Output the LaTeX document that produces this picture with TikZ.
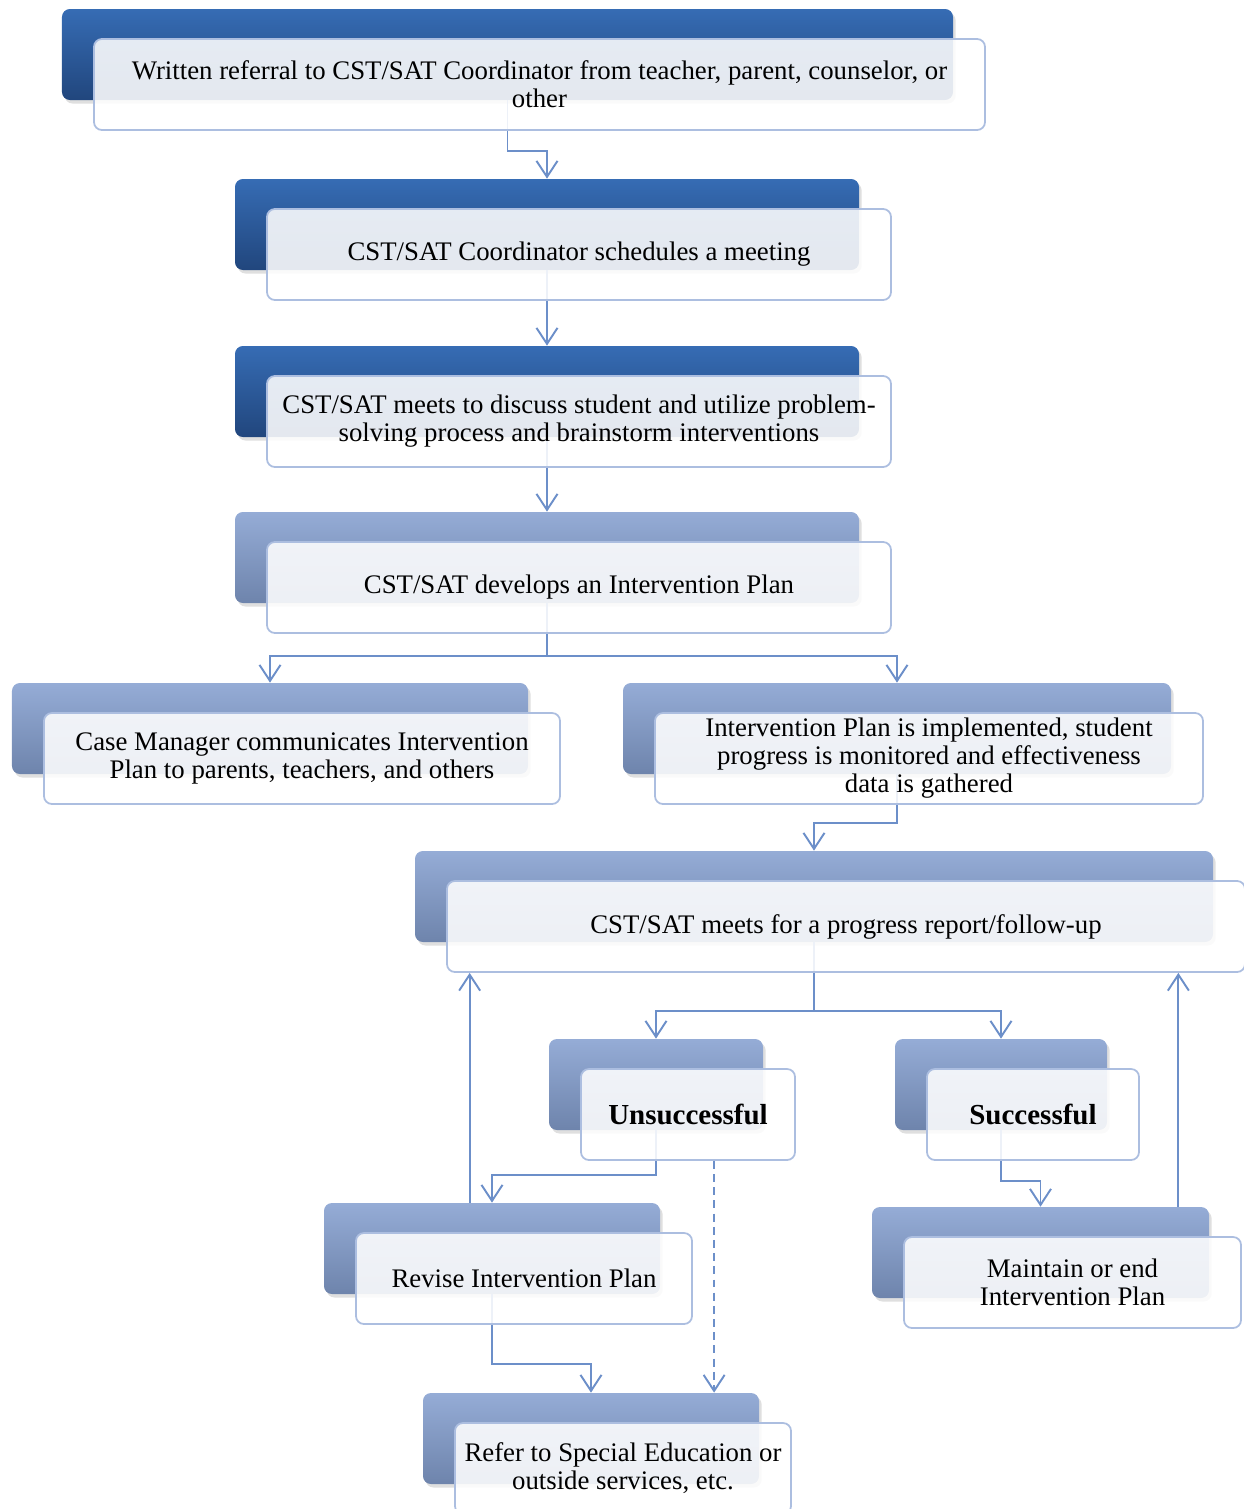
\documentclass[tikz,border=0pt]{standalone}
\usepackage{fontspec}
\setmainfont{Liberation Serif}
\usepackage{xcolor}
\usepackage{tikz}
\usetikzlibrary{arrows.meta}
\usetikzlibrary{shadows}

\definecolor{darktop}{RGB}{54,108,180}
\definecolor{darkbot}{RGB}{33,70,125}
\definecolor{paletop}{RGB}{149,172,214}
\definecolor{palebot}{RGB}{110,132,172}
\definecolor{cardline}{RGB}{172,190,224}
\definecolor{flowline}{RGB}{108,143,201}

\begin{document}
\begin{tikzpicture}[
    font = \fontsize{15.25}{15.9}\selectfont]
    \tikzstyle{tab}=[rounded corners=4.5pt,minimum height=1.82cm,inner sep=0pt,
      drop shadow={shadow xshift=1.5pt,shadow yshift=-2pt,opacity=0.25}]
    \tikzstyle{darktab}=[tab,top color=darktop,bottom color=darkbot]
    \tikzstyle{paletab}=[tab,top color=paletop,bottom color=palebot]
    \tikzstyle{card}=[draw=cardline,line width=1pt,fill=white,fill opacity=0.88,
      text opacity=1,rounded corners=4.5pt,minimum height=1.82cm,inner sep=0pt,align=center]
    \tikzstyle{flow}=[draw=flowline,line width=1.1pt,-{Straight Barb[length=3.2mm,width=4.2mm]}]
    \useasboundingbox (0,0) rectangle (24.88,-30.18);

    % back tabs
    \node[darktab,minimum width=17.82cm] (t1) at (10.15,-1.09) {};
    \node[darktab,minimum width=12.48cm] (t2) at (10.94,-4.49) {};
    \node[darktab,minimum width=12.48cm] (t3) at (10.94,-7.83) {};
    \node[paletab,minimum width=12.48cm] (t4) at (10.94,-11.15) {};
    \node[paletab,minimum width=10.32cm] (t5) at (5.40,-14.57) {};
    \node[paletab,minimum width=10.96cm] (t6) at (17.94,-14.57) {};
    \node[paletab,minimum width=15.96cm] (t7) at (16.28,-17.93) {};
    \node[paletab,minimum width=4.28cm] (t8) at (13.12,-21.69) {};
    \node[paletab,minimum width=4.24cm] (t9) at (20.02,-21.69) {};
    \node[paletab,minimum width=6.72cm] (t10) at (9.84,-24.97) {};
    \node[paletab,minimum width=6.74cm] (t11) at (20.81,-25.05) {};
    \node[paletab,minimum width=6.72cm] (t12) at (11.82,-28.77) {};

    % connectors behind the cards
    \draw[flow] (t1.south) -- ++(0,-1.02) -| (t2.north);
    \draw[flow] (t2.south) -- (t3.north);
    \draw[flow] (t3.south) -- (t4.north);
    \draw[flow] (t4.south) -- ++(0,-1.06) -| (t5.north);
    \draw[flow] (t4.south) -- ++(0,-1.06) -| (t6.north);
    \draw[flow] (t6.south) -- ++(0,-0.98) -| (t7.north);
    \draw[flow] (t7.south) -- ++(0,-1.38) -| (t8.north);
    \draw[flow] (t7.south) -- ++(0,-1.38) -| (t9.north);
    \draw[flow] (t8.south) -- ++(0,-0.9) -| (t10.north);
    \draw[flow] (t9.south) -- ++(0,-1.02) -| (t11.north);
    \draw[flow] (t10.south) -- ++(0,-1.4) -| (t12.north);

    % front cards
    \node[card,minimum width=17.82cm] (s1) at ([shift={(0.64,-0.6)}]t1)
      {Written referral to CST/SAT Coordinator from teacher, parent, counselor, or\\other};
    \node[card,minimum width=12.48cm] (s2) at ([shift={(0.64,-0.6)}]t2)
      {CST/SAT Coordinator schedules a meeting};
    \node[card,minimum width=12.48cm] (s3) at ([shift={(0.64,-0.6)}]t3)
      {CST/SAT meets to discuss student and utilize problem-\\solving process and brainstorm interventions};
    \node[card,minimum width=12.48cm] (s4) at ([shift={(0.64,-0.6)}]t4)
      {CST/SAT develops an Intervention Plan};
    \node[card,minimum width=10.32cm] (s5) at ([shift={(0.64,-0.6)}]t5)
      {Case Manager communicates Intervention\\Plan to parents, teachers, and others};
    \node[card,minimum width=10.96cm] (s6) at ([shift={(0.64,-0.6)}]t6)
      {Intervention Plan is implemented, student\\progress is monitored and effectiveness\\data is gathered};
    \node[card,minimum width=15.96cm] (s7) at ([shift={(0.64,-0.6)}]t7)
      {CST/SAT meets for a progress report/follow-up};
    \node[card,minimum width=4.28cm,font=\fontsize{16.5}{17}\selectfont\bfseries] (s8)
      at ([shift={(0.64,-0.6)}]t8) {Unsuccessful};
    \node[card,minimum width=4.24cm,font=\fontsize{16.5}{17}\selectfont\bfseries] (s9)
      at ([shift={(0.64,-0.6)}]t9) {Successful};
    \node[card,minimum width=6.72cm] (s10) at ([shift={(0.64,-0.6)}]t10)
      {Revise Intervention Plan};
    \node[card,minimum width=6.74cm] (s11) at ([shift={(0.64,-0.6)}]t11)
      {Maintain or end\\Intervention Plan};
    \node[card,minimum width=6.72cm] (s12) at ([shift={(0.64,-0.6)}]t12)
      {Refer to Special Education or\\outside services, etc.};

    % loops back and referral
    \coordinate (r1) at ([xshift=2.92cm]t10.north west);
    \coordinate (r2) at ([xshift=-0.62cm]t11.north east);
    \coordinate (d1) at ([xshift=2.68cm]s8.south west);
    \draw[flow] (r1) -- (r1 |- s7.south);
    \draw[flow] (r2) -- (r2 |- s7.south);
    \draw[flow,dash pattern=on 4.5pt off 3pt] (d1) -- (d1 |- t12.north);
\end{tikzpicture}
\end{document}
